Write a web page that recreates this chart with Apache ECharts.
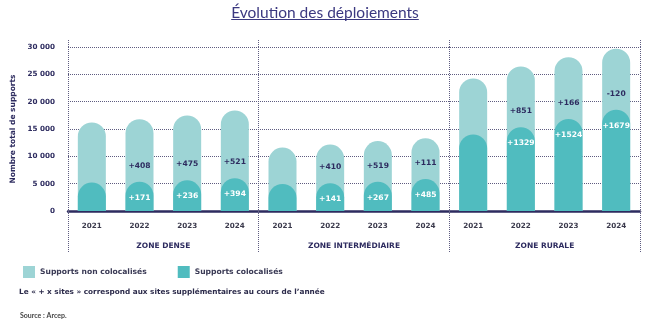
<!DOCTYPE html>
<html><head><meta charset="utf-8">
<script src="https://cdn.jsdelivr.net/npm/echarts@6/dist/echarts.min.js"></script>
<style>html,body{margin:0;padding:0;background:#fff}#c{width:650px;height:327px}</style>
</head><body><div id="c"></div>
<script>
const zones = ['ZONE DENSE', 'ZONE INTERMÉDIAIRE', 'ZONE RURALE'];
const years = ['2021', '2022', '2023', '2024'];
const totalSupports = [16200, 16780, 17490, 18400, 11600, 12150, 12800, 13300, 24260, 26440, 28130, 29690];
const colocSupports = [5200, 5370, 5610, 6000, 4950, 5090, 5360, 5840, 14000, 15330, 16850, 18530];
const addNonColoc = ['', '+408', '+475', '+521', '', '+410', '+519', '+111', '', '+851', '+166', '-120'];
const addColoc = ['', '+171', '+236', '+394', '', '+141', '+267', '+485', '', '+1329', '+1524', '+1679'];
const yMin = 0, yMax = 30000, yStep = 5000;
const legendNames = ['Supports non colocalisés', 'Supports colocalisés'];
const titleText = 'Évolution des déploiements';
const noteText = 'Le « + x sites » correspond aux sites supplémentaires au cours de l\u2019année';
const sourceText = 'Source : Arcep.';

const FONT = '"DejaVu Sans", sans-serif';
const TFONT = 'Lato, sans-serif';
const NAVY = '#2d2b5f';
const cats = [];
zones.forEach(z => years.forEach(y => cats.push(z + '|' + y)));
const fmt = v => String(v).replace(/\B(?=(\d{3})+(?!\d))/g, ' ');

// measure title width for underline
const cv = document.createElement('canvas').getContext('2d');
cv.font = 'normal 15.5px Lato';
const tw = cv.measureText(titleText).width;

const chart = echarts.init(document.getElementById('c'), null, {renderer: 'canvas'});
const dotted = {type: 'dotted', color: '#5e5c80', width: 1};
const bold7 = {fontFamily: FONT, fontSize: 7.2, fontWeight: 'bold'};
chart.setOption({
  animation: false,
  textStyle: {fontFamily: FONT},
  title: [
    {text: titleText, left: 'center', top: 0, textStyle: {fontFamily: TFONT, fontSize: 15.5, fontWeight: 'normal', color: '#3b3880'}},
    {text: noteText, left: 19, top: 289, padding: 0, textStyle: Object.assign({}, bold7, {fontSize: 7.3, color: '#2b2a4a'})},
    {text: sourceText, left: 20, top: 312, padding: 0, textStyle: {fontFamily: TFONT, fontSize: 7, fontWeight: 'bold', color: '#444'}}
  ],
  graphic: [{
    type: 'line', shape: {x1: 325 - tw / 2, y1: 19.5, x2: 325 + tw / 2, y2: 19.5},
    style: {stroke: '#3b3880', lineWidth: 1}
  }],
  legend: {
    data: legendNames, left: 23, top: 266, padding: 0, itemWidth: 12, itemHeight: 12, itemGap: 31,
    icon: 'rect', textStyle: Object.assign({}, bold7, {fontSize: 7.6, color: '#3a3a55'})
  },
  grid: {left: 68, right: 10, top: 47, bottom: 116},
  xAxis: [
    {
      type: 'category', data: cats, position: 'bottom',
      axisLine: {show: true, lineStyle: {color: NAVY, width: 2.5}},
      axisTick: {show: false},
      axisLabel: Object.assign({margin: 12, interval: 0, color: '#3b3a4c', formatter: v => v.split('|')[1]}, bold7),
      splitLine: {show: false}
    },
    {
      type: 'category', data: zones, position: 'bottom',
      axisLine: {show: false},
      axisTick: {show: true, length: 42, interval: 0, lineStyle: dotted},
      axisLabel: Object.assign({margin: 31, interval: 0, color: NAVY}, bold7, {fontSize: 7.5}),
      splitLine: {show: true, interval: 0, lineStyle: dotted}
    },
    {
      type: 'category', data: zones, position: 'top',
      axisLine: {show: false},
      axisTick: {show: true, length: 7, interval: 0, lineStyle: dotted},
      axisLabel: {show: false},
      splitLine: {show: false}
    }
  ],
  yAxis: {
    type: 'value', min: yMin, max: yMax, interval: yStep,
    name: 'Nombre total de supports', nameLocation: 'middle', nameGap: 49, nameRotate: 90,
    nameTextStyle: Object.assign({}, bold7, {fontSize: 7.5, color: NAVY}),
    axisLine: {show: false}, axisTick: {show: false},
    axisLabel: Object.assign({margin: 13, color: NAVY, formatter: fmt}, bold7),
    splitLine: {show: true, lineStyle: dotted}
  },
  series: [
    {
      name: legendNames[0], type: 'bar', data: totalSupports, barWidth: 28, barGap: '-100%',
      itemStyle: {color: '#9dd4d5', borderRadius: [14, 14, 0, 0]}, z: 2
    },
    {
      name: legendNames[1], type: 'bar', data: colocSupports, barWidth: 28, barGap: '-100%',
      itemStyle: {color: '#50bcbf', borderRadius: [14, 14, 0, 0]}, z: 3,
      label: Object.assign({show: true, position: 'insideTop', distance: 12, color: '#ffffff',
        formatter: p => addColoc[p.dataIndex]}, bold7, {fontSize: 7.6})
    },
    {
      name: 'labels', type: 'bar', data: colocSupports, barWidth: 28, barGap: '-100%',
      itemStyle: {color: 'rgba(0,0,0,0)'}, z: 4, silent: true,
      label: Object.assign({show: true, position: 'top', distance: 12, color: NAVY,
        formatter: p => addNonColoc[p.dataIndex]}, bold7, {fontSize: 7.6})
    }
  ]
});
</script></body></html>
